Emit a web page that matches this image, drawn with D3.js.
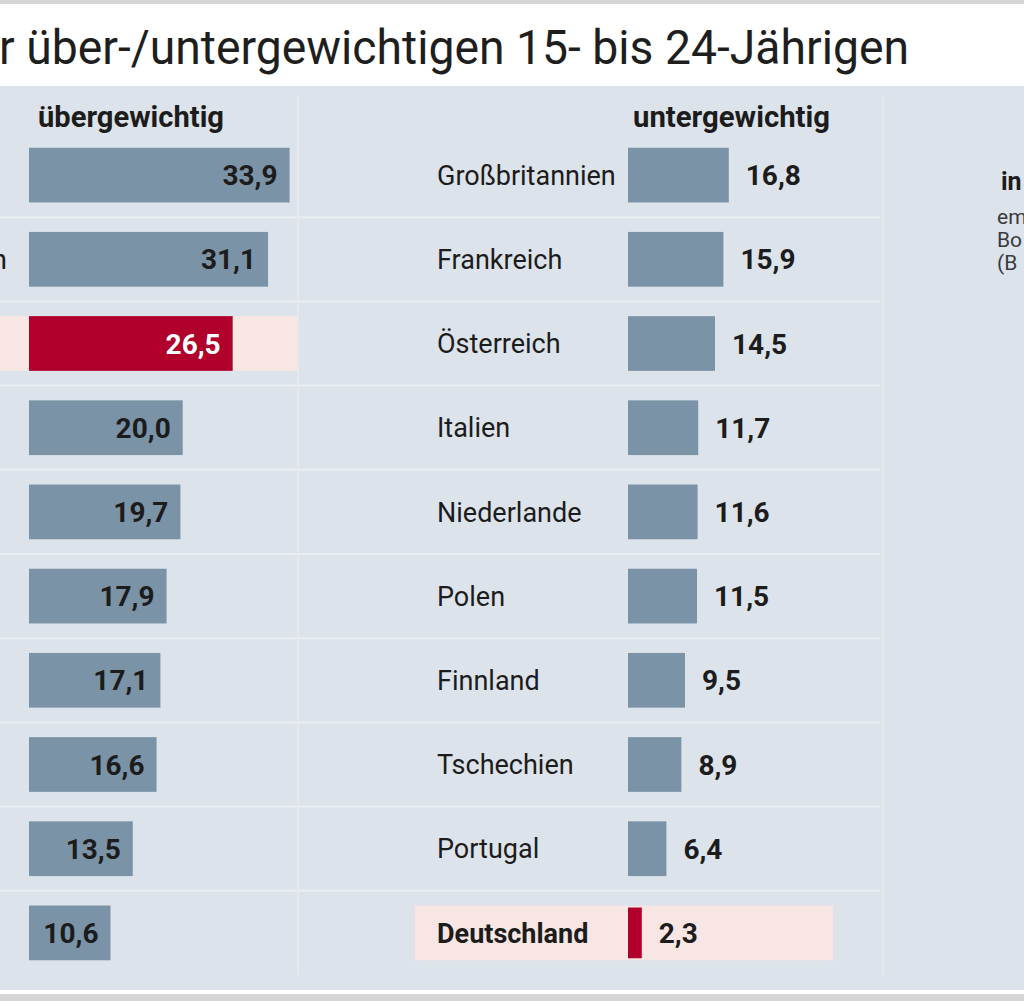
<!DOCTYPE html>
<html>
<head>
<meta charset="utf-8">
<script src="https://cdn.jsdelivr.net/npm/d3@7"></script>
<style>
  html, body { margin: 0; padding: 0; background: #ffffff; }
  svg { display: block; }
</style>
</head>
<body>
<svg id="chart" width="1024" height="1001"></svg>
<script>
// ---- data ----
const titleText = "r über-/untergewichtigen 15- bis 24-Jährigen";
const leftHeader = "übergewichtig";
const rightHeader = "untergewichtig";
const leftLabels = ["", "n", "", "", "", "", "", "", "", ""];
const leftValues = [33.9, 31.1, 26.5, 20.0, 19.7, 17.9, 17.1, 16.6, 13.5, 10.6];
const leftHighlight = 2;
const rightLabels = ["Großbritannien", "Frankreich", "Österreich", "Italien", "Niederlande",
                     "Polen", "Finnland", "Tschechien", "Portugal", "Deutschland"];
const rightValues = [16.8, 15.9, 14.5, 11.7, 11.6, 11.5, 9.5, 8.9, 6.4, 2.3];
const rightHighlight = 9;
const sideTitle = "in";
const sideLines = ["em", "Bo", "(B"];

// ---- styles ----
const C = {
  panel: "#dce3ea", bar: "#7b93a6", red: "#b1002c", pink: "#f7e6e3",
  text: "#1c1c1c", sep: "#eaeef2", gray: "#d6d6d6"
};
const FONT = "Roboto, 'Liberation Sans', Arial, sans-serif";
const fmt = v => d3.format(".1f")(v).replace(".", ",");

const svg = d3.select("#chart");

// frame
svg.append("rect").attr("x", 0).attr("y", 0).attr("width", 1024).attr("height", 1001).attr("fill", "#ffffff");
svg.append("rect").attr("x", 0).attr("y", 0).attr("width", 1024).attr("height", 4).attr("fill", C.gray);
svg.append("rect").attr("x", 0).attr("y", 86).attr("width", 1024).attr("height", 904).attr("fill", C.panel);
svg.append("rect").attr("x", 0).attr("y", 994).attr("width", 1024).attr("height", 7).attr("fill", C.gray);

// title
svg.append("text").attr("x", -1).attr("y", 64)
  .attr("textLength", 910).attr("lengthAdjust", "spacingAndGlyphs")
  .attr("font-family", FONT).attr("font-size", 49).attr("fill", "#1e1e1e")
  .text(titleText);

// scales
const idx = d3.range(leftValues.length);
const y = d3.scaleBand().domain(idx).range([133, 975]).paddingInner(0.35).paddingOuter(0.175);
const xL = d3.scaleLinear().domain([0, 35]).range([29, 298]);
const xR = d3.scaleLinear().domain([0, 35]).range([628, 838]);

// row separators
const step = y.step();
svg.append("g").selectAll("line").data(idx.slice(1)).join("line")
  .attr("x1", 0).attr("x2", 880)
  .attr("y1", d => y(d) - step * 0.175).attr("y2", d => y(d) - step * 0.175)
  .attr("stroke", C.sep).attr("stroke-width", 2);

// vertical dividers
[298, 883].forEach(xv => {
  svg.append("line").attr("x1", xv).attr("x2", xv).attr("y1", 96).attr("y2", 975)
    .attr("stroke", "#e5e9ee").attr("stroke-width", 2);
});

// highlight bands
svg.append("rect").attr("x", 0).attr("width", 297)
  .attr("y", y(leftHighlight)).attr("height", y.bandwidth()).attr("fill", C.pink);
svg.append("rect").attr("x", 415).attr("width", 418)
  .attr("y", y(rightHighlight)).attr("height", y.bandwidth()).attr("fill", C.pink);

// headers
svg.append("text").attr("x", 38).attr("y", 127).attr("font-family", FONT)
  .attr("font-weight", "bold").attr("font-size", 29).attr("fill", C.text)
  .attr("textLength", 186).attr("lengthAdjust", "spacingAndGlyphs").text(leftHeader);
svg.append("text").attr("x", 633).attr("y", 127).attr("font-family", FONT)
  .attr("font-weight", "bold").attr("font-size", 29).attr("fill", C.text)
  .attr("textLength", 197).attr("lengthAdjust", "spacingAndGlyphs").text(rightHeader);

// left bars
const gL = svg.append("g");
gL.selectAll("rect").data(idx).join("rect")
  .attr("x", xL(0)).attr("y", d => y(d))
  .attr("width", d => xL(leftValues[d]) - xL(0)).attr("height", y.bandwidth())
  .attr("fill", d => d === leftHighlight ? C.red : C.bar);
gL.selectAll("text.val").data(idx).join("text").attr("class", "val")
  .attr("x", d => xL(leftValues[d]) - 12).attr("y", d => y(d) + y.bandwidth() / 2)
  .attr("dy", "0.36em").attr("text-anchor", "end")
  .attr("font-family", FONT).attr("font-weight", "bold").attr("font-size", 28)
  .attr("fill", d => d === leftHighlight ? "#ffffff" : C.text)
  .text(d => fmt(leftValues[d]));
gL.selectAll("text.lab").data(idx).join("text").attr("class", "lab")
  .attr("x", 7).attr("y", d => y(d) + y.bandwidth() / 2)
  .attr("dy", "0.36em").attr("text-anchor", "end")
  .attr("font-family", FONT).attr("font-size", 28).attr("fill", C.text)
  .text(d => leftLabels[d]);

// right bars
const gR = svg.append("g");
gR.selectAll("rect").data(idx).join("rect")
  .attr("x", xR(0)).attr("y", d => y(d) + (d === rightHighlight ? 2 : 0))
  .attr("width", d => xR(rightValues[d]) - xR(0))
  .attr("height", d => y.bandwidth() - (d === rightHighlight ? 4 : 0))
  .attr("fill", d => d === rightHighlight ? C.red : C.bar);
gR.selectAll("text.val").data(idx).join("text").attr("class", "val")
  .attr("x", d => xR(rightValues[d]) + 17).attr("y", d => y(d) + y.bandwidth() / 2)
  .attr("dy", "0.36em")
  .attr("font-family", FONT).attr("font-weight", "bold").attr("font-size", 28)
  .attr("fill", C.text).text(d => fmt(rightValues[d]));
gR.selectAll("text.lab").data(idx).join("text").attr("class", "lab")
  .attr("x", 437).attr("y", d => y(d) + y.bandwidth() / 2)
  .attr("dy", "0.36em")
  .attr("font-family", FONT).attr("font-size", 27)
  .attr("font-weight", d => d === rightHighlight ? "bold" : "normal")
  .attr("fill", C.text).text(d => rightLabels[d]);

// side note (cut off at right edge, as in the reference)
svg.append("text").attr("x", 1001).attr("y", 190).attr("font-family", FONT)
  .attr("font-weight", "bold").attr("font-size", 25).attr("fill", C.text).text(sideTitle);
svg.append("g").selectAll("text").data(sideLines).join("text")
  .attr("x", 997).attr("y", (d, i) => 224 + i * 23)
  .attr("font-family", FONT).attr("font-size", 21).attr("fill", "#3a3a3a")
  .text(d => d);
</script>
</body>
</html>
